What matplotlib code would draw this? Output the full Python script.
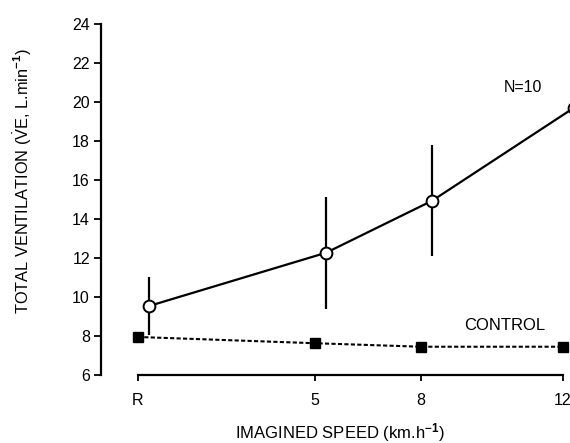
import matplotlib
matplotlib.use("Agg")
import matplotlib.pyplot as plt

# ---- data ----
speed_labels = ["R", "5", "8", "12"]
speed_pos = [0, 5, 8, 12]
imagined_mean = [9.54, 12.27, 14.94, 19.7]
imagined_err = [1.5, 2.86, 2.83, 0.0]
control_mean = [7.95, 7.63, 7.45, 7.45]
y_ticks = [6, 8, 10, 12, 14, 16, 18, 20, 22, 24]

plt.rcParams['font.family'] = ['Liberation Sans', 'DejaVu Sans']
plt.rcParams['mathtext.fontset'] = 'custom'
plt.rcParams['mathtext.rm'] = 'Liberation Sans'
plt.rcParams['mathtext.it'] = 'Liberation Sans'
plt.rcParams['mathtext.bf'] = 'Liberation Sans:bold'

W, H = 570, 443
fig = plt.figure(figsize=(W / 100, H / 100), dpi=100)
ax = fig.add_axes([101 / W, (H - 375) / H, (W - 101) / W, (375 - 24) / H])

offset = 0.32
imag_x = [p + offset for p in speed_pos]

ax.errorbar(imag_x, imagined_mean, yerr=imagined_err, fmt='none',
            ecolor='black', elinewidth=1.6, capsize=0, clip_on=False, zorder=2)
ax.plot(imag_x, imagined_mean, '-', color='black', lw=1.6,
        marker='o', markersize=8.5, markerfacecolor='white',
        markeredgecolor='black', markeredgewidth=1.4, clip_on=False, zorder=4)
ax.plot(speed_pos, control_mean, linestyle=(0, (2.0, 1.1)), color='black', lw=1.5,
        marker='s', markersize=7, markerfacecolor='black',
        markeredgecolor='black', clip_on=False, zorder=3)

ax.set_xlim(-1.04, (W - 137.7) / 35.4)
ax.set_ylim(6, 24)

for s in ['top', 'right']:
    ax.spines[s].set_visible(False)
ax.spines['left'].set_linewidth(1.6)
ax.spines['bottom'].set_linewidth(1.6)
ax.spines['bottom'].set_bounds(0, 12)

ax.set_yticks(y_ticks)
ax.set_yticklabels([str(v) for v in y_ticks], fontsize=11.5)
ax.set_xticks(speed_pos)
ax.set_xticklabels(speed_labels, fontsize=11.5)
ax.tick_params(axis='y', direction='out', length=5, width=1.3, pad=3)
ax.tick_params(axis='x', direction='out', length=4, width=1.3, pad=9)

fig.text(23 / W, 1 - 181 / H,
         r"TOTAL VENTILATION ($\dot{\rm V}$E, L.min$^{\mathbf{-1}}$)",
         rotation=90, ha='center', va='center', fontsize=11.8)
fig.text(340 / W, 1 - 433 / H, r"IMAGINED SPEED (km.h$^{\mathbf{-1}}$)",
         ha='center', va='center', fontsize=12)

ax.text(523, H - 88, "N=10", transform=None, fontsize=11.5, ha='center', va='center')
ax.text(505, H - 325, "CONTROL", transform=None, fontsize=12, ha='center', va='center')

fig.savefig("out.png", dpi=100)
